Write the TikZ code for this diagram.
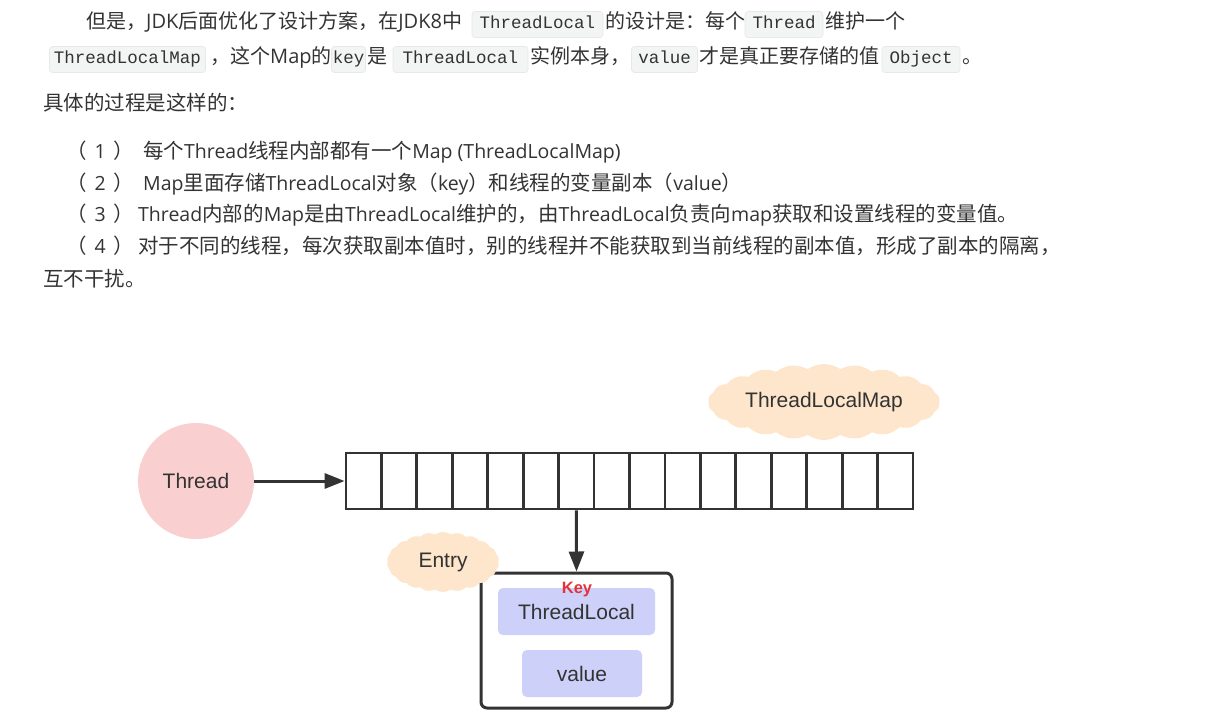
\documentclass[tikz,border=0pt]{standalone}
\usepackage{fontspec}
\setmainfont{Open Sans}
\newfontfamily\zhf{Noto Sans CJK SC}
\newfontfamily\dgf{Liberation Sans}
\newfontfamily\cdf{Liberation Mono}
\usetikzlibrary{shapes.symbols,arrows.meta}
\definecolor{txt}{HTML}{333333}
\definecolor{codebg}{HTML}{F3F4F4}
\definecolor{codeln}{HTML}{E6E8EA}
\definecolor{pinkc}{HTML}{F9D0CF}
\definecolor{peach}{HTML}{FDE6CB}
\definecolor{lav}{HTML}{CDD0F8}
\definecolor{keyred}{HTML}{E3323A}
\definecolor{ink}{HTML}{333333}
\newcommand\zh[1]{{\zhf#1}}
\newcommand\zhl[1]{{\zhf\fontsize{20.5}{24}\selectfont#1}}
\tikzset{
  para/.style={anchor=base west, inner sep=0pt, text=txt, font=\fontsize{19.5}{24}\selectfont},
  para1/.style={para, font=\fontsize{20}{24}\selectfont},
  codebox/.style={anchor=base, fill=codebg, draw=codeln, line width=0.6pt, rounded corners=3pt,
     inner xsep=0pt, inner ysep=4pt, text height=13.5pt, text depth=4.5pt, text=txt,
     font=\cdf\fontsize{17.5}{20}\selectfont},
  cell/.style={draw=ink, line width=2.8pt, minimum width=35.44pt, minimum height=56pt, inner sep=0pt},
  conn/.style={draw=ink, line width=3pt, -{Triangle[length=20pt,width=15pt]}},
  dtext/.style={text=txt, font=\dgf\fontsize{21}{24}\selectfont},
  blob/.style={cloud, cloud puffs=22, cloud puff arc=70, cloud ignores aspect, fill=peach, draw=none, dtext},
  inner/.style={fill=lav, rounded corners=5pt, inner sep=0pt, dtext}
}
\begin{document}
\begin{tikzpicture}[x=1pt,y=-1pt]
\useasboundingbox (0,0) rectangle (1214,727);
\fill[white] (0,0) rectangle (1214,727);

% paragraph 1, line 1
\node[para1] (p1a) at (86,29) {\zh{但是，}JDK\zh{后面优化了设计方案，在}JDK8\zh{中}};
\node[codebox, minimum width=131pt] (k1) at (537.5,29) {ThreadLocal};
\node[para1] (p1b) at (605,29) {\zh{的设计是：每个}};
\node[codebox, minimum width=78pt] (k2) at (784,29) {Thread};
\node[para1] (p1c) at (825,29) {\zh{维护一个}};
% line 2
\node[codebox, minimum width=156pt] (k3) at (127.5,64) {ThreadLocalMap};
\node[para1] (p2a) at (210,64) {\zh{，这个}Map\zh{的}};
\node[codebox, minimum width=34pt] (k4) at (348.5,64) {key};
\node[para1] (p2b) at (367,64) {\zh{是}};
\node[codebox, minimum width=135pt] (k5) at (460.5,64) {ThreadLocal};
\node[para1] (p2c) at (530,64) {\zh{实例本身，}};
\node[codebox, minimum width=66pt] (k6) at (664.5,64) {value};
\node[para1] (p2d) at (699,64) {\zh{才是真正要存储的值}};
\node[codebox, minimum width=78pt] (k7) at (921,64) {Object};
\node[para1] (p2e) at (962,64) {\zh{。}};

\node[para] (p3) at (43,111) {\zhl{具体的过程是这样的：}};
\node[para] (n1) at (66,159) {\zhl{（}\hspace{8pt}1\hspace{8pt}\zhl{）}};
\node[para] (l1) at (143,159) {\zhl{每个}Thread\zhl{线程内部都有一个}Map (ThreadLocalMap)};
\node[para] (n2) at (66,191) {\zhl{（}\hspace{8pt}2\hspace{8pt}\zhl{）}};
\node[para] (l2) at (143,191) {Map\zhl{里面存储}ThreadLocal\zhl{对象（}key\zhl{）和线程的变量副本（}value\zhl{）}};
\node[para] (n3) at (66,222) {\zhl{（}\hspace{8pt}3\hspace{8pt}\zhl{）}};
\node[para] (l3) at (138,222) {Thread\zhl{内部的}Map\zhl{是由}ThreadLocal\zhl{维护的，由}ThreadLocal\zhl{负责向}map\zhl{获取和设置线程的变量值。}};
\node[para] (n4) at (66,254) {\zhl{（}\hspace{8pt}4\hspace{8pt}\zhl{）}};
\node[para] (l4) at (138,254) {\zhl{对于不同的线程，每次获取副本值时，别的线程并不能获取到当前线程的副本值，形成了副本的隔离，}};
\node[para] (l5) at (43,286) {\zhl{互不干扰。}};

% diagram
\node[blob, minimum width=222pt, minimum height=76pt] (tlm) at (824,402) {ThreadLocalMap};
\node[circle, fill=pinkc, minimum size=116pt, inner sep=0pt, dtext] (thr) at (196,481) {Thread};
\foreach \i in {1,...,16}
  \node[cell] (c\i) at ({346+(\i-0.5)*35.4375},481) {};
\draw[conn] (thr) -- (c1);
\node[draw=ink, line width=3pt, rounded corners=6pt, minimum width=191pt, minimum height=135pt] (entry) at (576.5,640.5) {};
\draw[conn] (c7.south) -- (entry.north);
\node[blob, minimum width=112pt, minimum height=60pt] (ent) at (443,562) {Entry};
\node[inner, minimum width=157pt, minimum height=47pt] (tl) at (576.5,611.5) {ThreadLocal};
\node[inner, minimum width=120pt, minimum height=47pt] (val) at (582,673.5) {value};
\node[text=keyred, font=\dgf\bfseries\fontsize{16.5}{18}\selectfont, inner sep=0pt] (key) at (577,590) {Key};
\end{tikzpicture}
\end{document}
